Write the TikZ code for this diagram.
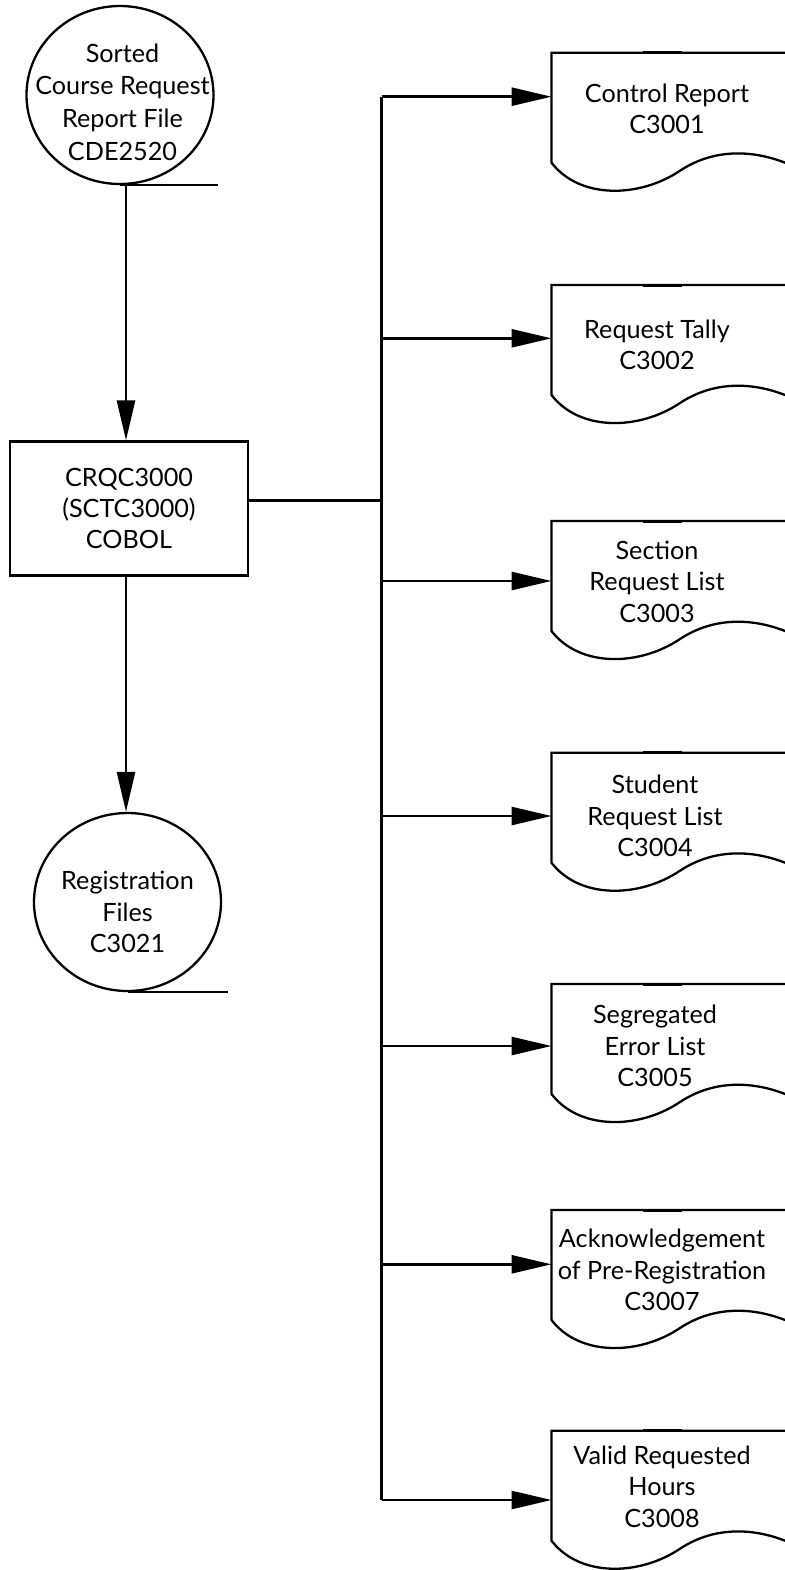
\documentclass[tikz,border=0pt]{standalone}
\usepackage{fontspec}
\setmainfont{Lato}
\usetikzlibrary{arrows.meta,shapes.geometric}
\newcommand\docitem[6]{%
  \coordinate (#1) at (551.5,#2);
  \draw[docline] (790,#2) -- (#1) -- (551.5,{#2+110})
     .. controls (580,{#2+147}) and (640,{#2+145}) .. (680,{#2+118})
     .. controls (715,{#2+95}) and (755,{#2+97}) .. (790,{#2+112});
  \draw[line width=1.5pt] (643,#2) -- (682,#2);
  \node[txt] (#1t) at (#4,#5) {#6};
  \coordinate (#1j) at (381.7,#3);
  \draw[arr] (#1j) -- (#1j -| #1);
}
\begin{document}
\begin{tikzpicture}[x=0.5pt,y=-0.5pt, line width=1.35pt,
  txt/.style={font=\fontsize{12.6}{15.6}\selectfont, align=center, inner sep=0pt},
  arr/.style={-{Triangle[length=20pt,width=9pt]}},
  docline/.style={line width=1.15pt},
  store/.style={ellipse, draw, line width=1.15pt, minimum width=93.5pt, minimum height=89pt, inner sep=0pt},
  proc/.style={rectangle, draw, minimum width=119pt, minimum height=67pt, txt},
]
\useasboundingbox (0,0) rectangle (785,1570);
\clip (0,0) rectangle (785,1570);

\node[store] (c1) at (120,95) {};
\node[txt, font=\fontsize{12.6}{16.3}\selectfont] (c1t) at (122.5,102) {Sorted\\Course Request\\Report File\\CDE2520};
\draw[docline] (c1.south) -- ++(98,0);
\node[proc] (box) at (129,508.7) {CRQC3000\\(SCTC3000)\\COBOL};
\node[store] (c2) at (127.5,902) {};
\node[txt] (c2t) at (127.5,912) {Registration\\Files\\C3021};
\draw[docline] (c2.south) -- ++(100,0);

\coordinate (v) at (126,0);
\draw[arr] (c1.south -| v) -- (box.north -| v);
\draw[arr] (box.south -| v) -- (c2.north -| v);

\coordinate (bt) at (381.7,96.7);
\coordinate (bb) at (381.7,1500);
\draw (bt) -- (bb);
\draw ([yshift=4pt]box.east) -- ([yshift=4pt]box.east -| bt);

\docitem{d1}{52.7}{96.7}{667}{109}{Control Report\\C3001}
\docitem{d2}{285}{338.3}{657}{345}{Request Tally\\C3002}
\docitem{d3}{521}{581}{657}{581.7}{Section\\Request List\\C3003}
\docitem{d4}{752.7}{816}{655}{816}{Student\\Request List\\C3004}
\docitem{d5}{984}{1046}{655}{1046}{Segregated\\Error List\\C3005}
\docitem{d6}{1210}{1264.3}{662}{1270}{Acknowledgement\\of Pre-Registration\\C3007}
\docitem{d7}{1430.7}{1500}{662}{1486.7}{Valid Requested\\Hours\\C3008}
\end{tikzpicture}
\end{document}
